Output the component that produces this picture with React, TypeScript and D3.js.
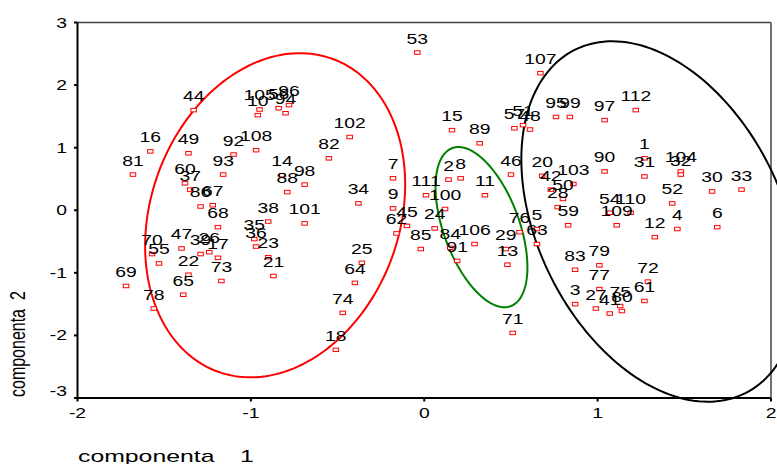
import React from "react";
import * as d3 from "d3";

const WIDTH = 777;
const HEIGHT = 464;
const FONT = "'Liberation Sans', Arial, sans-serif";

// case numbers and their scores on the two components
const caseLabels = [
  "44", "16", "81", "49", "60", "37", "86", "67", "93", "92", "108", "10",
  "105", "56", "94", "96", "14", "98", "88", "82", "102", "38", "101", "34",
  "68", "35", "36", "23", "21", "70", "55", "47", "39", "26", "17", "22",
  "73", "65", "69", "78", "25", "64", "74", "18",
  "53", "7", "9", "62", "45", "85", "111", "100", "24", "15", "89", "2", "8",
  "11", "84", "91", "106", "29", "13", "71", "76", "5", "63", "46", "57",
  "51", "48", "107",
  "95", "99", "97", "112", "1", "31", "104", "32", "30", "33", "90", "20",
  "42", "103", "50", "28", "59", "52", "54", "110", "109", "12", "4", "6",
  "83", "79", "77", "72", "3", "27", "75", "61", "41", "80",
];

const comp1 = [
  -1.33, -1.58, -1.68, -1.36, -1.38, -1.35, -1.29, -1.22, -1.16, -1.1, -0.97, -0.96,
  -0.95, -0.84, -0.8, -0.78, -0.82, -0.69, -0.79, -0.55, -0.43, -0.9, -0.69, -0.38,
  -1.19, -0.98, -0.97, -0.9, -0.87, -1.57, -1.53, -1.4, -1.29, -1.24, -1.19, -1.36,
  -1.17, -1.39, -1.72, -1.56, -0.36, -0.4, -0.47, -0.51,
  -0.04, -0.18, -0.18, -0.16, -0.1, -0.02, 0.01, 0.12, 0.06, 0.16, 0.32, 0.14, 0.21,
  0.35, 0.15, 0.19, 0.29, 0.47, 0.48, 0.51, 0.55, 0.65, 0.65, 0.5, 0.52,
  0.57, 0.61, 0.67,
  0.76, 0.84, 1.04, 1.22, 1.27, 1.27, 1.48, 1.48, 1.66, 1.83, 1.04, 0.68,
  0.73, 0.86, 0.8, 0.77, 0.83, 1.43, 1.07, 1.19, 1.11, 1.33, 1.46, 1.69,
  0.87, 1.01, 1.01, 1.29, 0.87, 0.99, 1.13, 1.27, 1.07, 1.14,
];

const comp2 = [
  1.6, 0.94, 0.57, 0.91, 0.43, 0.33, 0.06, 0.08, 0.57, 0.89, 0.96, 1.52,
  1.61, 1.63, 1.55, 1.68, 0.56, 0.41, 0.29, 0.83, 1.17, -0.18, -0.21, 0.11,
  -0.27, -0.46, -0.58, -0.75, -1.05, -0.7, -0.85, -0.61, -0.7, -0.67, -0.76, -1.03,
  -1.13, -1.35, -1.21, -1.57, -0.84, -1.16, -1.64, -2.23,
  2.52, 0.51, 0.03, -0.37, -0.25, -0.62, 0.24, 0.02, -0.29, 1.28, 1.07, 0.49, 0.51,
  0.24, -0.6, -0.81, -0.54, -0.62, -0.87, -1.96, -0.35, -0.3, -0.54, 0.57, 1.31,
  1.36, 1.29, 2.19,
  1.49, 1.49, 1.44, 1.6, 0.83, 0.54, 0.62, 0.57, 0.3, 0.33, 0.62, 0.55,
  0.33, 0.42, 0.18, 0.05, -0.24, 0.11, -0.04, -0.04, -0.24, -0.43, -0.3, -0.27,
  -0.95, -0.88, -1.26, -1.14, -1.5, -1.57, -1.53, -1.45, -1.65, -1.61,
];

const xTicks = [-2, -1, 0, 1, 2];
const yTicks = [-3, -2, -1, 0, 1, 2, 3];

// group ellipses: centre, half extent on each component, correlation
const ellipseColors = ["#ff0000", "#008000", "#000000"];
const ellipseCx = [-0.86, 0.33, 1.36];
const ellipseCy = [-0.08, -0.27, -0.18];
const ellipseRx = [0.75, 0.265, 0.8];
const ellipseRy = [2.59, 1.28, 2.88];
const ellipseCorr = [0.19, -0.5, -0.345];

// the original picture is stretched sideways, text included
function Txt({ x, y, size = 14, sx = 1.38, anchor = "middle", children }) {
  return (
    <text
      transform={`translate(${x},${y}) scale(${sx},1)`}
      textAnchor={anchor}
      fontSize={size}
      fontFamily={FONT}
      fill="#000"
    >
      {children}
    </text>
  );
}

export default function App() {
  const x = d3.scaleLinear().domain([-2, 2]).range([77.5, 771]);
  const y = d3.scaleLinear().domain([-3, 3]).range([398, 22.5]);

  const angles = d3.range(0, Math.PI * 2, Math.PI / 90);
  const ellipsePath = (i) =>
    d3
      .line()
      .x((t) => x(ellipseCx[i] + ellipseRx[i] * Math.cos(t)))
      .y((t) =>
        y(
          ellipseCy[i] +
            ellipseRy[i] *
              (ellipseCorr[i] * Math.cos(t) +
                Math.sqrt(1 - ellipseCorr[i] ** 2) * Math.sin(t))
        )
      )
      .curve(d3.curveLinearClosed)(angles);

  const [x0, x1] = x.range();
  const [y0, y1] = y.range();

  return (
    <svg
      width={WIDTH}
      height={HEIGHT}
      style={{ position: "absolute", left: 0, top: 0, background: "#fff" }}
    >
      {/* frame */}
      <line x1={x0} x2={x1} y1={y1} y2={y1} stroke="#444" strokeWidth={1.5} />
      <line x1={x1} x2={x1} y1={y1} y2={y0} stroke="#444" strokeWidth={1.5} />
      <line x1={x0} x2={x1} y1={y0} y2={y0} stroke="#000" strokeWidth={2} />
      <line x1={x0} x2={x0} y1={y1} y2={y0} stroke="#000" strokeWidth={2} />

      {/* ticks */}
      {yTicks.map((t) => (
        <g key={"y" + t}>
          <line x1={x0 - 3.5} x2={x0} y1={y(t)} y2={y(t)} stroke="#000" strokeWidth={2} />
          <Txt x={67} y={y(t) + 5 - (t === -3 ? 7.5 : 0)} anchor="end">
            {t}
          </Txt>
        </g>
      ))}
      {xTicks.map((t) => (
        <g key={"x" + t}>
          <line x1={x(t)} x2={x(t)} y1={y0} y2={y0 + 3.5} stroke="#000" strokeWidth={2} />
          <Txt x={x(t)} y={418}>
            {t}
          </Txt>
        </g>
      ))}

      {/* axis titles */}
      <Txt x={78} y={461.5} size={16} sx={1.55} anchor="start">
        componenta
      </Txt>
      <Txt x={240} y={461.5} size={16} sx={1.55} anchor="start">
        1
      </Txt>
      <text
        transform="translate(25,397) rotate(-90) scale(1,1.4)"
        fontSize={16}
        fontFamily={FONT}
        textAnchor="start"
      >
        componenta<tspan dx={9}>2</tspan>
      </text>

      {/* group ellipses */}
      {ellipseColors.map((c, i) => (
        <path key={c} d={ellipsePath(i)} fill="none" stroke={c} strokeWidth={2} />
      ))}

      {/* cases */}
      {caseLabels.map((lab, i) => (
        <rect
          key={"m" + i}
          x={x(comp1[i]) - 2.75}
          y={y(comp2[i]) - 1.75}
          width={5.5}
          height={3.5}
          fill="#fff"
          stroke="#ff0000"
          strokeWidth={1}
        />
      ))}
      {caseLabels.map((lab, i) => (
        <Txt key={"l" + i} x={x(comp1[i])} y={y(comp2[i]) - 9}>
          {lab}
        </Txt>
      ))}
    </svg>
  );
}
